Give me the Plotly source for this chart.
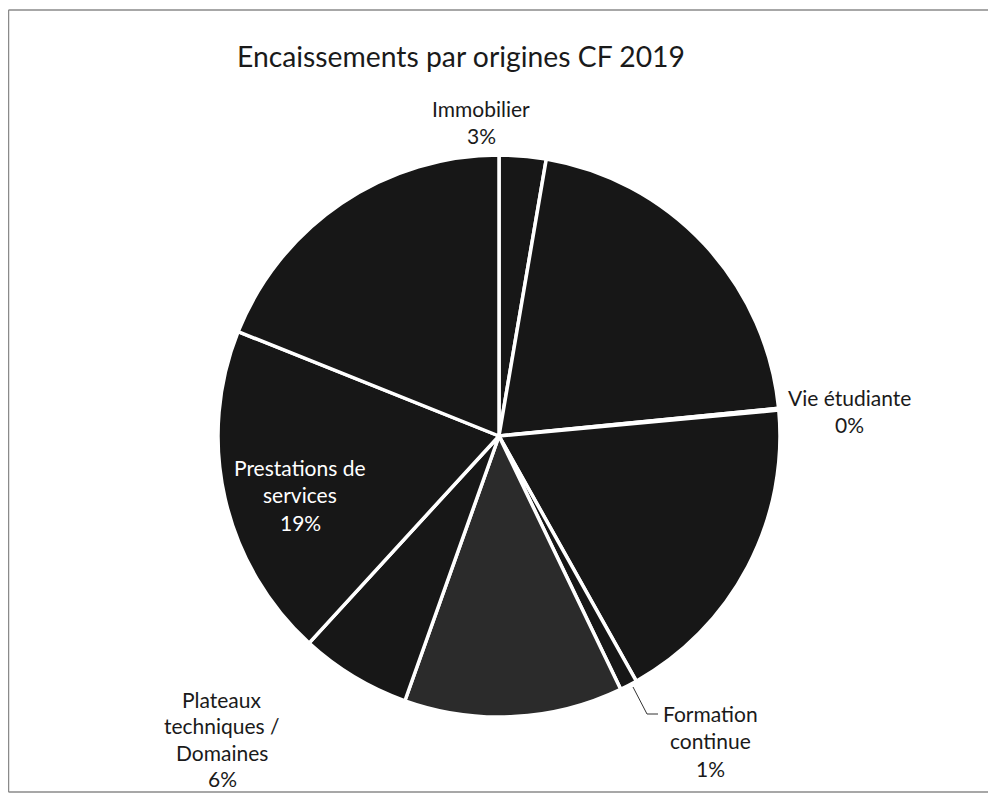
import plotly.graph_objects as go

# ---- data (clockwise from 12 o'clock) ----
labels = ["Immobilier", "Origine A", "Vie étudiante", "Origine B", "Formation continue",
          "Origine C", "Plateaux techniques / Domaines", "Prestations de services", "Origine D"]
values = [2.7, 20.8, 0.1, 18.4, 1.0, 12.6, 6.4, 19.3, 19.0]
colors = ["#171717", "#171717", "#171717", "#171717", "#171717",
          "#2b2b2b", "#171717", "#171717", "#171717"]
title_text = "Encaissements par origines CF 2019"

# label line-breaking as in the reference
label_lines = {
    "Immobilier": ["Immobilier"],
    "Vie étudiante": ["Vie étudiante"],
    "Formation continue": ["Formation", "continue"],
    "Plateaux techniques / Domaines": ["Plateaux", "techniques /", "Domaines"],
    "Prestations de services": ["Prestations de", "services"],
}

# the page body has an 8px default margin: figure is sized/positioned to compensate
OFF = 8
W, H = 996 - OFF, 796 - OFF
def px(x):
    return (x - OFF) / W
def py(y):
    return 1 - (y - OFF) / H

# pie geometry (page pixels)
cx, cy, r = 499, 436, 281

fig = go.Figure(go.Pie(
    labels=labels, values=values, sort=False, direction="clockwise", rotation=0,
    marker=dict(colors=colors, line=dict(color="white", width=3.5)),
    textinfo="none", hoverinfo="label+percent", showlegend=False,
    domain=dict(x=[px(cx - r), px(cx + r)], y=[py(cy + r), py(cy - r)]),
))

total = sum(values)
# label placement: (center x, first line y, line spacing, color)
placement = {
    "Immobilier": (481, 108, 27.8, "#1a1a1a"),
    "Vie étudiante": (849, 397, 27.8, "#1a1a1a"),
    "Formation continue": (710, 713, 27.8, "#1a1a1a"),
    "Plateaux techniques / Domaines": (222, 699, 26.5, "#1a1a1a"),
    "Prestations de services": (300, 467, 27.8, "#ffffff"),
}
font_family = "Lato, 'Open Sans', sans-serif"
annotations = []
for lab, val in zip(labels, values):
    if lab not in placement:
        continue
    x0, y0, dy, col = placement[lab]
    lines = label_lines[lab] + [f"{round(val / total * 100):.0f}%"]
    for i, t in enumerate(lines):
        annotations.append(dict(
            text=t, x=px(x0), y=py(y0 + i * dy), xref="paper", yref="paper",
            xanchor="center", yanchor="middle", showarrow=False,
            font=dict(family=font_family, size=21, color=col)))

annotations.append(dict(
    text=title_text, x=px(461), y=py(56), xref="paper", yref="paper",
    xanchor="center", yanchor="middle", showarrow=False,
    font=dict(family=font_family, size=28.3, color="#1a1a1a")))

shapes = [
    # leader line for Formation continue
    dict(type="path", xref="paper", yref="paper",
         path=f"M {px(633)} {py(687)} L {px(647)} {py(714)} L {px(658)} {py(714)}",
         line=dict(color="#333333", width=1)),
    # chart frame
    dict(type="line", xref="paper", yref="paper", x0=px(8.5), y0=py(10), x1=1, y1=py(10),
         line=dict(color="#8a8a8a", width=1.5)),
    dict(type="line", xref="paper", yref="paper", x0=px(8.5), y0=py(10), x1=px(8.5), y1=py(792),
         line=dict(color="#8a8a8a", width=1.5)),
    dict(type="line", xref="paper", yref="paper", x0=px(8.5), y0=py(792), x1=1, y1=py(792),
         line=dict(color="#8a8a8a", width=1.5)),
]

fig.update_layout(
    width=W, height=H, margin=dict(l=0, r=0, t=0, b=0),
    paper_bgcolor="white", plot_bgcolor="white",
    annotations=annotations, shapes=shapes,
)
fig.write_html("out.html")
